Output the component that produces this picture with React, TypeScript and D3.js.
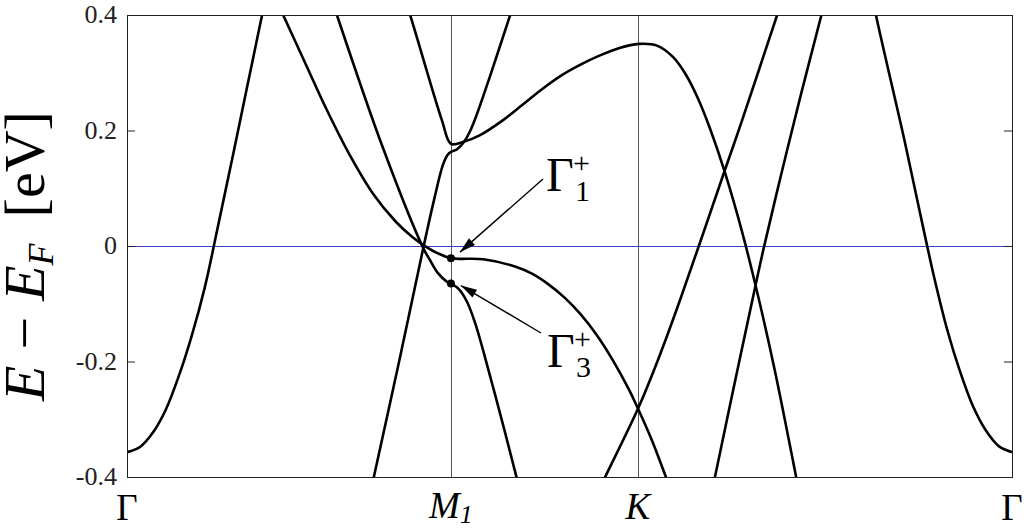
import React from "react";
import * as d3 from "d3";

const width = 1026;
const height = 529;
const margin = { top: 15, right: 14, bottom: 52, left: 127 };

// high symmetry points along the path (k in units of |G-M|)
const kTicks = [0, 1, 1.577, 2.732];
const kLabels = ["Γ", "M", "K", "Γ"];
const yTicks = [0.4, 0.2, 0, -0.2, -0.4];
const yTickLabels = ["0.4", "0.2", "0", "-0.2", "-0.4"];

// bands: [k, E - EF]
const bandLeft = [
  [0, -0.357], [0.04, -0.348], [0.08, -0.323], [0.12, -0.283], [0.16, -0.225],
  [0.2, -0.155], [0.24, -0.072], [0.28, 0.032], [0.33, 0.165], [0.417, 0.4], [0.435, 0.447],
];
const bandRight = [
  [2.296, 0.447], [2.312, 0.4], [2.402, 0.178], [2.452, 0.047], [2.492, -0.055],
  [2.532, -0.145], [2.572, -0.218], [2.612, -0.278], [2.652, -0.32], [2.692, -0.347], [2.732, -0.357],
];
// passes through the crossing and ends in Gamma1+ at M
const bandG1 = [
  [0.466, 0.42], [0.482, 0.4], [0.55, 0.317], [0.62, 0.232], [0.69, 0.155],
  [0.76, 0.09], [0.83, 0.042], [0.88, 0.016], [0.914, 0.002], [0.957, -0.012],
  [1.0, -0.021], [1.1, -0.023], [1.2, -0.036], [1.25, -0.048], [1.3, -0.066],
  [1.35, -0.089], [1.4, -0.118], [1.45, -0.154], [1.5, -0.198], [1.55, -0.249],
  [1.577, -0.281], [1.62, -0.336], [1.665, -0.402], [1.672, -0.412],
];
// steep band ending in Gamma3+ at M
const bandG3 = [
  [0.633, 0.426], [0.648, 0.4], [0.79, 0.17], [0.914, -0.003], [0.935, -0.024],
  [0.96, -0.047], [0.988, -0.062], [1.0, -0.065], [1.025, -0.075], [1.05, -0.097],
  [1.075, -0.134], [1.1, -0.182], [1.14, -0.265], [1.2, -0.395], [1.21, -0.418],
];
const bandRise = [
  [0.758, -0.41], [0.762, -0.4], [0.84, -0.2], [0.914, -0.005], [0.95, 0.085],
  [0.975, 0.14], [0.99, 0.158], [1.0, 0.163], [1.02, 0.168], [1.04, 0.18],
  [1.06, 0.2], [1.08, 0.228], [1.12, 0.293], [1.18, 0.395], [1.195, 0.42],
];
const bandTop = [
  [0.858, 0.426], [0.874, 0.4], [0.972, 0.218], [1.0, 0.177], [1.037, 0.18],
  [1.09, 0.192], [1.161, 0.218], [1.22, 0.244], [1.28, 0.271], [1.34, 0.295],
  [1.4, 0.314], [1.46, 0.33], [1.52, 0.343], [1.58, 0.35], [1.636, 0.347],
  [1.686, 0.327], [1.725, 0.297], [1.763, 0.255], [1.8, 0.203], [1.846, 0.127],
  [1.9, 0.022], [1.95, -0.091], [2.0, -0.216], [2.06, -0.384], [2.07, -0.413],
];
const bandKup = [
  [1.466, -0.412], [1.476, -0.4], [1.578, -0.281], [1.64, -0.196], [1.707, -0.094],
  [1.846, 0.132], [1.899, 0.218], [2.007, 0.4], [2.019, 0.42],
];
const bandKright = [
  [1.809, -0.416], [1.815, -0.4], [1.87, -0.253], [1.93, -0.095], [1.965, -0.005],
  [2.02, 0.125], [2.078, 0.257], [2.146, 0.405], [2.155, 0.425],
];
const bands = [bandLeft, bandRight, bandG1, bandG3, bandRise, bandTop, bandKup, bandKright];

const gammaPoints = [
  { k: 1, e: -0.021, sub: "1" },
  { k: 1, e: -0.065, sub: "3" },
];

const font = "Liberation Serif, DejaVu Serif, serif";

function arrowHead(x1, y1, x2, y2, len = 16, half = 4.5) {
  const a = Math.atan2(y2 - y1, x2 - x1);
  const bx = x2 - len * Math.cos(a);
  const by = y2 - len * Math.sin(a);
  const px = -Math.sin(a) * half;
  const py = Math.cos(a) * half;
  return `${x2},${y2} ${bx + px},${by + py} ${bx - px},${by - py}`;
}

export default function App() {
  const x = d3
    .scaleLinear()
    .domain([0, 2.732])
    .range([margin.left, width - margin.right]);
  const y = d3
    .scaleLinear()
    .domain([-0.4, 0.4])
    .range([height - margin.bottom, margin.top]);

  const line = d3
    .line()
    .x(d => x(d[0]))
    .y(d => y(d[1]))
    .curve(d3.curveCatmullRom.alpha(0.5));

  const x0 = x(0), x1 = x(2.732), yT = y(0.4), yB = y(-0.4);

  // annotation positions (label anchor, arrow tip next to the dot)
  const g1 = { lx: 546, ly: 191, tail: [543, 179], tip: [x(1) + 9, y(-0.021) - 6] };
  const g3 = { lx: 547, ly: 367, tail: [541, 333], tip: [x(1) + 10, y(-0.065) + 2] };

  return (
    <svg width={width} height={height} style={{ position: "absolute", left: 0, top: 0, background: "#fff" }}>
      <defs>
        <clipPath id="plot">
          <rect x={x0} y={yT} width={x1 - x0} height={yB - yT} />
        </clipPath>
      </defs>

      {/* guide lines */}
      {kTicks.slice(1, 3).map(k => (
        <line key={k} x1={Math.round(x(k)) + 0.5} x2={Math.round(x(k)) + 0.5} y1={yT} y2={yB}
          stroke="#555" strokeWidth={1} />
      ))}
      <line x1={x0} x2={x1} y1={y(0) + 0.5} y2={y(0) + 0.5} stroke="#3c3cc8" strokeWidth={1} />

      {/* ticks */}
      {yTicks.map(t => (
        <g key={t}>
          <line x1={x0} x2={x0 + 8} y1={y(t) + 0.5} y2={y(t) + 0.5} stroke="#222" />
          <line x1={x1 - 8} x2={x1} y1={y(t) + 0.5} y2={y(t) + 0.5} stroke="#222" />
        </g>
      ))}

      <g clipPath="url(#plot)">
        {bands.map((b, i) => (
          <path key={i} d={line(b)} fill="none" stroke="#000" strokeWidth={2.6} strokeLinejoin="round" />
        ))}
      </g>

      {gammaPoints.map(p => (
        <circle key={p.sub} cx={x(p.k)} cy={y(p.e)} r={4} fill="#000" />
      ))}

      <rect x={x0 + 0.5} y={yT + 0.5} width={x1 - x0} height={yB - yT} fill="none" stroke="#222" strokeWidth={1} />

      {/* y tick labels */}
      {yTicks.map((t, i) => (
        <text key={t} x={117} y={y(t) + 8} textAnchor="end" fontFamily={font} fontSize={26} fill="#222">
          {yTickLabels[i]}
        </text>
      ))}

      {/* k labels */}
      <text x={x(0)} y={520} textAnchor="middle" fontFamily={font} fontSize={37}>{kLabels[0]}</text>
      <text x={x(1) - 22} y={518} fontFamily={font} fontSize={37} fontStyle="italic">
        {kLabels[1]}
        <tspan fontSize={26} dy={5}>1</tspan>
      </text>
      <text x={x(1.577)} y={519} textAnchor="middle" fontFamily={font} fontSize={37} fontStyle="italic">{kLabels[2]}</text>
      <text x={x(2.732)} y={520} textAnchor="middle" fontFamily={font} fontSize={37}>{kLabels[3]}</text>

      {/* y axis title */}
      <text transform="translate(44,401) rotate(-90)" fontFamily={font} fontSize={58}>
        <tspan fontStyle="italic">E</tspan>
        <tspan dx={16}>−</tspan>
        <tspan dx={16} fontStyle="italic">E</tspan>
        <tspan fontStyle="italic" fontSize={36} dy={9}>F</tspan>
        <tspan dx={26} dy={-9}>[eV]</tspan>
      </text>

      {/* annotations */}
      {[g1, g3].map((g, i) => (
        <g key={i}>
          <line x1={g.tail[0]} y1={g.tail[1]} x2={g.tip[0]} y2={g.tip[1]} stroke="#000" strokeWidth={1.4} />
          <polygon points={arrowHead(g.tail[0], g.tail[1], g.tip[0], g.tip[1])} fill="#000" />
          <text x={g.lx} y={g.ly} fontFamily={font} fontSize={48}>Γ</text>
          <text x={g.lx + 27} y={g.ly - 18} fontFamily={font} fontSize={30}>+</text>
          <text x={g.lx + 29} y={g.ly + 10} fontFamily={font} fontSize={30}>{gammaPoints[i].sub}</text>
        </g>
      ))}
    </svg>
  );
}
